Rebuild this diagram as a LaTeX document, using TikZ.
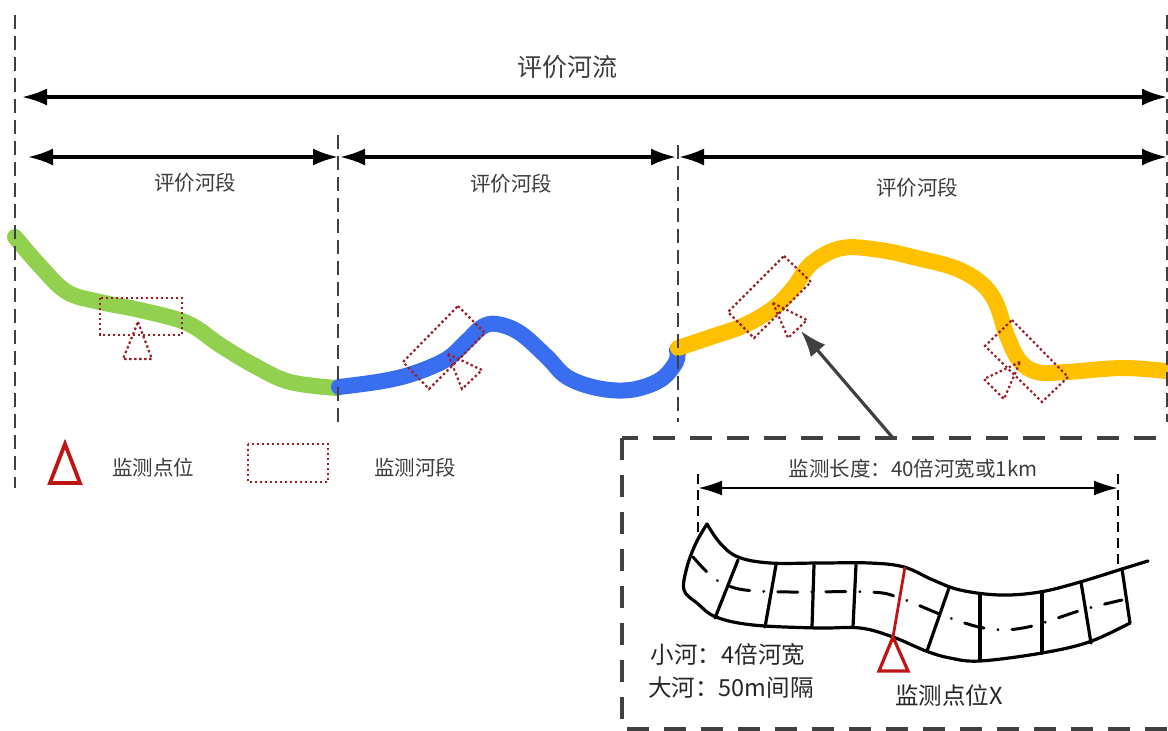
\documentclass[tikz,border=0pt]{standalone}
\usepackage{fontspec}
\setmainfont{Noto Sans CJK SC}
\usetikzlibrary{arrows.meta}
\definecolor{riverGreen}{RGB}{146,208,80}
\definecolor{riverBlue}{RGB}{58,110,240}
\definecolor{riverOrange}{RGB}{255,192,0}
\definecolor{boxRed}{RGB}{155,30,40}
\definecolor{markRed}{RGB}{190,20,20}
\definecolor{darkGrey}{RGB}{64,64,64}
\definecolor{textGrey}{RGB}{60,60,60}

\begin{document}
\begin{tikzpicture} [x = 1pt, y = -1pt,
    dimline/.style = {black, line width = 3.2pt, {Latex[length = 25pt, width = 17pt]}-{Latex[length = 25pt, width = 17pt]}},
    divider/.style = {darkGrey, line width = 2pt, dash pattern = on 14pt off 7pt},
    river/.style = {line width = 16pt, line cap = round, line join = round},
    dotbox/.style = {boxRed, line width = 2.2pt, dash pattern = on 2.4pt off 2.6pt},
    seglabel/.style = {textGrey, font = \fontsize{20.5}{24}\selectfont},
    insetnote/.style = {black!85, font = \fontsize{23.5}{28}\selectfont},
    bank/.style = {black, line width = 3.2pt, line cap = round, line join = round},
]
\path[use as bounding box] (0, 0) rectangle (1168, 731);
\clip (0, 0) rectangle (1168, 731);

\node[seglabel, font = \fontsize{25}{30}\selectfont] (riverTitle) at (567, 67){评价河流};
\coordinate (riverL) at (22, 97);
\coordinate (riverR) at (1167, 97);
\draw[dimline] (riverL) -- (riverR);

\coordinate (segA) at (28, 157);
\coordinate (segB) at (338, 157);
\coordinate (segC) at (340, 157);
\coordinate (segD) at (676, 157);
\coordinate (segE) at (679, 157);
\coordinate (segF) at (1167, 157);
\draw[dimline] (segA) -- (segB);
\draw[dimline] (segC) -- (segD);
\draw[dimline] (segE) -- (segF);
\node[seglabel] (labelA) at (195, 183){评价河段};
\node[seglabel] (labelB) at (511, 184){评价河段};
\node[seglabel] (labelC) at (917, 188){评价河段};

\draw[river, riverGreen] plot[smooth, tension = 0.6] coordinates {(15, 237) (40, 266) (67, 292) (100, 302) (140, 310) (187, 323) (220, 345) (255, 366) (290, 382) (337, 388)};
\draw[river, riverBlue] plot[smooth, tension = 0.6] coordinates {(339, 387) (383, 381) (415, 373) (447, 359) (467, 341) (482, 327) (497, 324) (520, 333) (547, 357) (567, 377) (597, 388) (630, 390) (660, 380) (676, 362) (677, 350)};
\draw[river, riverOrange] plot[smooth, tension = 0.6] coordinates {(678, 348) (711, 337) (745, 325) (775, 307) (794, 287) (812, 263) (842, 248) (880, 250) (917, 258) (955, 268) (981, 283) (996, 303) (1006, 333) (1019, 360) (1037, 372) (1067, 372) (1124, 368) (1175, 372)};

\draw[divider] (15, 15) -- (15, 488);
\draw[divider] (338, 135) -- (338, 422);
\draw[divider] (678, 145) -- (678, 422);
\draw[divider] (1167, 15) -- (1167, 422);

\draw[dotbox] (100, 298) rectangle (182, 335);
\draw[dotbox] (138, 322) -- (152, 359) -- (123, 359) -- cycle;
\draw[dotbox] (458, 306) -- (485, 333) -- (429, 389) -- (403, 362) -- cycle;
\draw[dotbox] (448, 354) -- (482, 370) -- (462, 389) -- cycle;
\draw[dotbox] (784, 256) -- (811, 282) -- (754, 338) -- (728, 312) -- cycle;
\draw[dotbox] (773, 303) -- (807, 320) -- (788, 338) -- cycle;
\draw[dotbox] (1012, 320) -- (1068, 377) -- (1042, 402) -- (985, 346) -- cycle;
\draw[dotbox] (1020, 362) -- (984, 379) -- (1004, 399) -- cycle;

\draw[markRed, line width = 3.8pt] (65, 444) -- (80, 483) -- (50, 483) -- cycle;
\node[seglabel] (legendSite) at (153, 468){监测点位};
\draw[dotbox] (248, 444) rectangle (328, 482);
\node[seglabel] (legendReach) at (415, 468){监测河段};

\draw[darkGrey, line width = 3.2pt, dash pattern = on 22pt off 15pt] (622, 438) rectangle (1190, 729);
\coordinate (insetTop) at (893, 438);
\coordinate (siteA) at (801, 331);
\draw[darkGrey, line width = 3.2pt, -{Latex[length = 26pt, width = 19pt]}] (insetTop) -- (siteA);

\node[seglabel] (lengthText) at (913, 469){监测长度：40倍河宽或1km};
\coordinate (lenL) at (698, 488);
\coordinate (lenR) at (1118, 488);
\draw[black, line width = 2.6pt, {Latex[length = 24pt, width = 15pt]}-{Latex[length = 24pt, width = 15pt]}] (lenL) -- (lenR);
\draw[black, line width = 2pt, dash pattern = on 10pt off 6pt] (698, 474) -- (698, 540);
\draw[black, line width = 2pt, dash pattern = on 10pt off 6pt] (1118, 474) -- (1118, 570);

\draw[bank] plot[smooth, tension = 0.6] coordinates {(707, 524) (720, 543) (738, 557) (770, 563) (820, 563) (870, 563) (904, 567) (933, 580) (960, 590) (1000, 595) (1040, 592) (1080, 582) (1122, 569) (1148, 561)};
\draw[bank] plot[smooth, tension = 0.6] coordinates {(707, 524) (696, 543) (687, 567) (684, 590) (697, 603) (716, 617) (753, 625) (817, 628) (860, 628) (893, 637) (926, 651) (950, 658) (980, 661) (1042, 653) (1089, 642) (1130, 623)};
\draw[bank] (738, 560) -- (715, 618);
\draw[bank] (776, 565) -- (765, 627);
\draw[bank] (814, 565) -- (812, 627);
\draw[bank] (856, 565) -- (853, 627);
\draw[bank] (949, 588) -- (927, 651);
\draw[bank] (980, 595) -- (980, 660);
\draw[bank] (1042, 593) -- (1042, 653);
\draw[bank] (1081, 582) -- (1091, 643);
\draw[bank] (1122, 569) -- (1130, 623);
\draw[black, line width = 3pt, line cap = round, dash pattern = on 20pt off 14pt on 0.1pt off 14pt] plot[smooth, tension = 0.6] coordinates {(693, 557) (708, 573) (722, 583) (745, 590) (790, 592) (870, 592) (900, 598) (950, 618) (990, 629) (1028, 627) (1082, 610) (1122, 600)};

\draw[markRed, line width = 2.8pt] (905, 567) -- (893, 637);
\draw[markRed, line width = 3.2pt] (893, 637) -- (908, 671) -- (879, 671) -- cycle;

\node[insetnote] (smallRiver) at (728, 655){小河：4倍河宽};
\node[insetnote] (bigRiver) at (731, 688){大河：50m间隔};
\node[insetnote] (siteX) at (949, 695){监测点位X};
\end{tikzpicture}
\end{document}
